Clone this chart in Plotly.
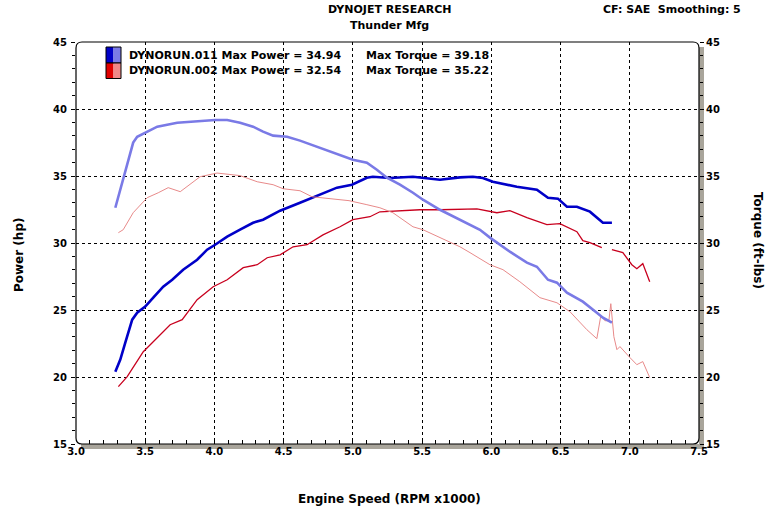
import plotly.graph_objects as go

# ---- data ----
rpm_tq_011 = [3.284, 3.341, 3.413, 3.442, 3.500, 3.587, 3.731, 3.897, 4.005, 4.092, 4.185, 4.279, 4.351,
              4.424, 4.525, 4.618, 4.762, 4.907, 5.000, 5.101, 5.173, 5.246, 5.340, 5.434, 5.506, 5.629,
              5.701, 5.795, 5.918, 5.990, 6.134, 6.257, 6.329, 6.409, 6.474, 6.546, 6.661, 6.762, 6.806, 6.871]
torque_011 = [32.63, 34.72, 37.49, 37.93, 38.23, 38.68, 38.98, 39.10, 39.18, 39.18, 38.98, 38.68, 38.31,
              38.01, 37.93, 37.64, 37.11, 36.59, 36.22, 35.99, 35.47, 34.87, 34.35, 33.75, 33.23, 32.48,
              32.11, 31.59, 30.99, 30.40, 29.35, 28.53, 28.23, 27.26, 27.04, 26.29, 25.62, 24.80, 24.43, 24.05]

rpm_hp_011 = [3.284, 3.320, 3.356, 3.406, 3.442, 3.500, 3.558, 3.630, 3.695, 3.774, 3.875, 3.947, 4.005,
              4.092, 4.185, 4.279, 4.351, 4.474, 4.618, 4.762, 4.885, 4.993, 5.101, 5.144, 5.267, 5.434,
              5.535, 5.629, 5.773, 5.867, 5.939, 6.011, 6.184, 6.329, 6.409, 6.481, 6.546, 6.618, 6.712,
              6.806, 6.871]
power_011 = [20.40, 21.30, 22.56, 24.28, 24.80, 25.25, 25.92, 26.74, 27.26, 28.01, 28.75, 29.50, 29.87,
             30.47, 30.99, 31.51, 31.74, 32.41, 33.01, 33.60, 34.13, 34.35, 34.87, 34.94, 34.85, 34.94,
             34.85, 34.72, 34.90, 34.94, 34.85, 34.57, 34.20, 33.97, 33.38, 33.31, 32.71, 32.71, 32.34,
             31.51, 31.51]

rpm_hp_002 = [3.306, 3.370, 3.486, 3.587, 3.680, 3.767, 3.875, 3.991, 4.092, 4.208, 4.309, 4.381, 4.474,
              4.568, 4.669, 4.784, 4.907, 5.000, 5.123, 5.195, 5.484, 5.629, 5.773, 5.896, 6.040, 6.134,
              6.257, 6.401, 6.495, 6.618, 6.661, 6.712, 6.798, 6.835, 6.871, 6.950, 7.015, 7.051, 7.094,
              7.144]
power_002 = [19.28, 20.03, 21.89, 22.93, 23.90, 24.28, 25.77, 26.74, 27.26, 28.16, 28.38, 28.90, 29.12,
             29.72, 29.87, 30.61, 31.21, 31.74, 31.96, 32.33, 32.48, 32.48, 32.54, 32.54, 32.26, 32.41,
             31.89, 31.37, 31.44, 30.84, 30.17, 30.02, 29.65, None, 29.50, 29.28, 28.38, 28.08, 28.46,
             27.11]

rpm_tq_002 = [3.306, 3.341, 3.413, 3.514, 3.594, 3.666, 3.753, 3.810, 3.897, 4.019, 4.185, 4.309, 4.424,
              4.496, 4.618, 4.705, 4.828, 4.972, 5.101, 5.195, 5.289, 5.434, 5.506, 5.629, 5.773, 5.846,
              5.990, 6.084, 6.206, 6.351, 6.474, 6.568, 6.690, 6.762, 6.791, 6.820, 6.849, 6.863, 6.885,
              6.907, 6.929, 7.001, 7.051, 7.094, 7.144]
torque_002 = [30.77, 30.99, 32.26, 33.38, 33.75, 34.13, 33.83, 34.27, 34.95, 35.22, 35.03, 34.57, 34.35,
              34.05, 33.90, 33.45, 33.31, 33.16, 32.86, 32.63, 32.26, 31.21, 30.99, 30.40, 29.72, 29.28,
              28.38, 28.01, 27.11, 25.92, 25.54, 24.87, 23.53, 22.86, 24.58, 24.20, 24.20, 25.47, 23.01,
              22.04, 22.27, 21.45, 20.92, 21.15, 19.96]

x_ticks = [3.0, 3.5, 4.0, 4.5, 5.0, 5.5, 6.0, 6.5, 7.0, 7.5]
x_tick_labels = ["3.0", "3.5", "4.0", "4.5", "5.0", "5.5", "6.0", "6.5", "7.0", "7.5"]
y_ticks = [15, 20, 25, 30, 35, 40, 45]

legend_rows = [
    ("DYNORUN.011 Max Power = 34.94", "Max Torque = 39.18"),
    ("DYNORUN.002 Max Power = 32.54", "Max Torque = 35.22"),
]

# ---- figure ----
W, H = 779, 517
L, R, T, B = 76, 80, 42, 73
PW, PH = W - L - R, H - T - B

def px(xp):
    return (xp - L) / PW

def py(yp):
    return (H - B - yp) / PH

FONT = "DejaVu Sans"
DARK_BLUE = "#0000c8"
LIGHT_BLUE = "#7a7ae6"
DARK_RED = "#c8001e"
LIGHT_RED = "#e88a8a"

fig = go.Figure()
fig.add_trace(go.Scatter(x=rpm_tq_002, y=torque_002, mode="lines",
                         line=dict(color=LIGHT_RED, width=1), yaxis="y2", showlegend=False))
fig.add_trace(go.Scatter(x=rpm_hp_002, y=power_002, mode="lines",
                         line=dict(color=DARK_RED, width=1.3), showlegend=False, connectgaps=False))
fig.add_trace(go.Scatter(x=rpm_tq_011, y=torque_011, mode="lines",
                         line=dict(color=LIGHT_BLUE, width=2.6), yaxis="y2", showlegend=False))
fig.add_trace(go.Scatter(x=rpm_hp_011, y=power_011, mode="lines",
                         line=dict(color=DARK_BLUE, width=2.6), showlegend=False))

tickfont = dict(family=FONT, size=10, color="black", weight="bold")

fig.update_layout(
    width=W, height=H,
    margin=dict(l=L, r=R, t=T, b=B, autoexpand=False),
    paper_bgcolor="white", plot_bgcolor="white",
    hovermode=False,
    xaxis=dict(range=[3.0, 7.5], tickvals=x_ticks, ticktext=x_tick_labels,
               ticks="inside", ticklen=5, tickcolor="black",
               minor=dict(dtick=0.1, ticks="inside", ticklen=4, tickcolor="black", showgrid=False),
               showgrid=True, gridcolor="black", griddash="3px,3px", gridwidth=1,
               zeroline=False, showline=False, tickfont=tickfont, fixedrange=True),
    yaxis=dict(range=[15, 45], tickvals=y_ticks, ticks="outside", ticklen=4, tickcolor="black",
               minor=dict(dtick=1, ticks="outside", ticklen=3, tickcolor="black", showgrid=False),
               showgrid=True, gridcolor="black", griddash="3px,3px", gridwidth=1,
               zeroline=False, showline=False, tickfont=tickfont, ticklabelstandoff=2),
    yaxis2=dict(range=[15, 45], tickvals=y_ticks, overlaying="y", side="right",
                ticks="outside", ticklen=4, tickcolor="black",
                minor=dict(dtick=1, ticks="outside", ticklen=3, tickcolor="black", showgrid=False),
                showgrid=False, zeroline=False, showline=False, tickfont=tickfont),
)

# shadow of the plot frame
SH = "#a9a59b"
fig.add_shape(type="rect", xref="paper", yref="paper", layer="below",
              x0=1.0, x1=px(L + PW + 5), y0=py(H - B + 5), y1=py(T + 5),
              fillcolor=SH, line=dict(width=0))
fig.add_shape(type="rect", xref="paper", yref="paper", layer="below",
              x0=px(L + 5), x1=px(L + PW + 5), y0=py(H - B + 5), y1=0.0,
              fillcolor=SH, line=dict(width=0))
fig.add_shape(type="rect", xref="paper", yref="paper", layer="below",
              x0=0, x1=1, y0=0, y1=1, fillcolor="white", line=dict(width=0))

# rounded frame
rx, ry = 6 / PW, 6 / PH
path = (f"M {rx},0 L {1-rx},0 Q 1,0 1,{ry} L 1,{1-ry} Q 1,1 {1-rx},1 "
        f"L {rx},1 Q 0,1 0,{1-ry} L 0,{ry} Q 0,0 {rx},0 Z")
fig.add_shape(type="path", xref="paper", yref="paper", path=path,
              line=dict(color="black", width=1.2), layer="above")

# legend swatches
sw = [(DARK_BLUE, LIGHT_BLUE, 47, 63), ("#e00000", "#f08888", 63, 78.5)]
for c1, c2, ya, yb in sw:
    fig.add_shape(type="rect", xref="paper", yref="paper", x0=px(106), x1=px(113.5),
                  y0=py(yb), y1=py(ya), fillcolor=c1, line=dict(width=0), layer="above")
    fig.add_shape(type="rect", xref="paper", yref="paper", x0=px(113.5), x1=px(121),
                  y0=py(yb), y1=py(ya), fillcolor=c2, line=dict(width=0), layer="above")
    fig.add_shape(type="rect", xref="paper", yref="paper", x0=px(106), x1=px(121),
                  y0=py(yb), y1=py(ya), fillcolor="rgba(0,0,0,0)",
                  line=dict(color="black", width=1), layer="above")

lf = dict(family=FONT, size=11, color="black", weight="bold")
for i, (t1, t2) in enumerate(legend_rows):
    yy = py(55 + i * 16)
    fig.add_annotation(x=px(127), y=yy, xref="paper", yref="paper", text=t1, showarrow=False,
                       xanchor="left", yanchor="middle", font=lf)
    fig.add_annotation(x=px(364), y=yy, xref="paper", yref="paper", text=t2, showarrow=False,
                       xanchor="left", yanchor="middle", font=lf)

# titles
fig.add_annotation(x=px(389), y=py(10), xref="paper", yref="paper", text="DYNOJET RESEARCH",
                   showarrow=False, xanchor="center", yanchor="middle", font=lf)
fig.add_annotation(x=px(389), y=py(26), xref="paper", yref="paper", text="Thunder Mfg",
                   showarrow=False, xanchor="center", yanchor="middle", font=lf)
fig.add_annotation(x=px(743), y=py(10), xref="paper", yref="paper", text="CF: SAE  Smoothing: 5",
                   showarrow=False, xanchor="right", yanchor="middle", font=lf)
fig.add_annotation(x=px(389), y=py(499), xref="paper", yref="paper", text="Engine Speed (RPM x1000)",
                   showarrow=False, xanchor="center", yanchor="middle",
                   font=dict(family=FONT, size=12, color="black", weight="bold"))
fig.add_annotation(x=px(19), y=py(255), xref="paper", yref="paper", text="Power (hp)",
                   showarrow=False, textangle=-90, xanchor="center", yanchor="middle",
                   font=dict(family=FONT, size=12, color="black", weight="bold"))
fig.add_annotation(x=px(758), y=py(240), xref="paper", yref="paper", text="Torque (ft-lbs)",
                   showarrow=False, textangle=90, xanchor="center", yanchor="middle",
                   font=dict(family=FONT, size=12, color="black", weight="bold"))

fig.write_html("out.html", config={"displayModeBar": False},
               post_script="document.body.style.margin='0';")
